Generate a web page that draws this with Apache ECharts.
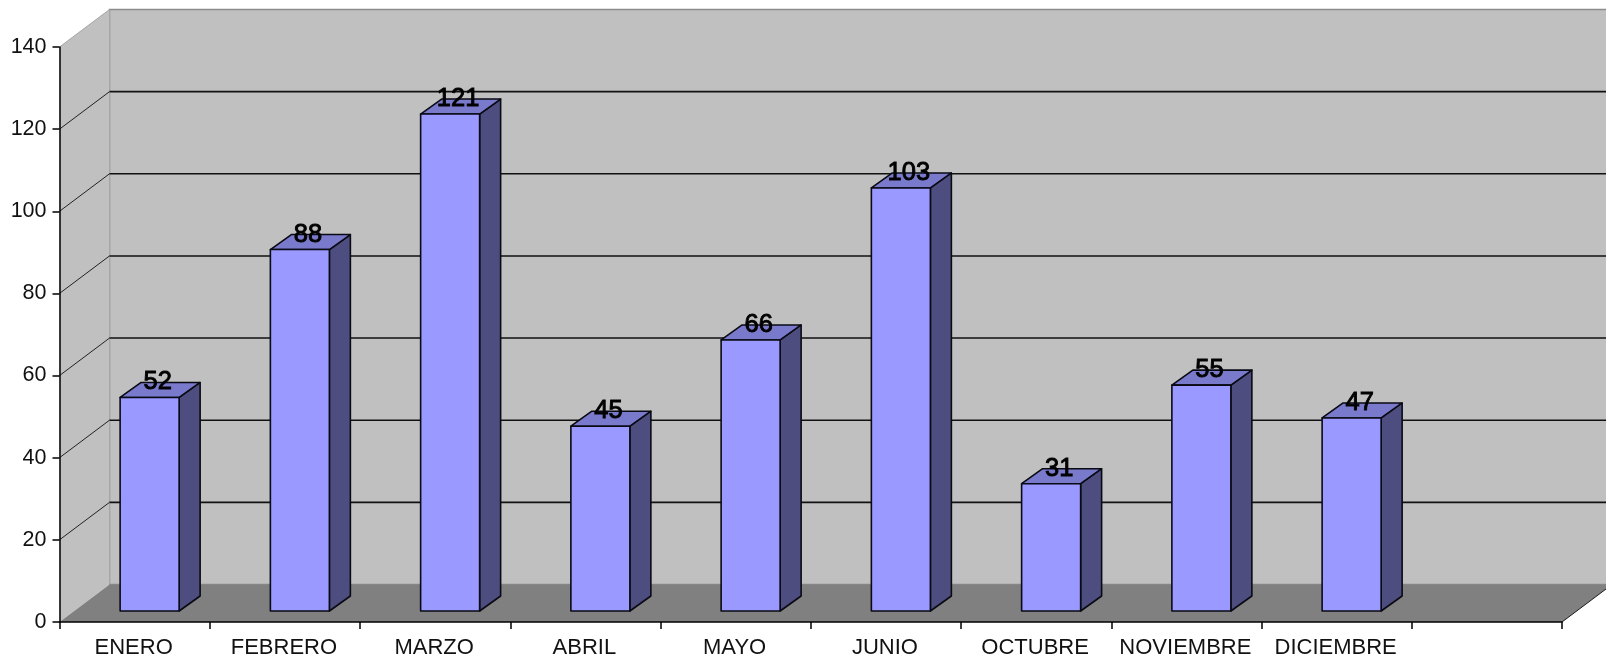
<!DOCTYPE html>
<html>
<head>
<meta charset="utf-8">
<style>
  html, body { margin: 0; padding: 0; background: #fff; }
  #chart { width: 1606px; height: 660px; }
</style>
<script src="https://cdn.jsdelivr.net/npm/echarts@6/dist/echarts.min.js"></script>
</head>
<body>
<div id="chart"></div>
<script>
const categories = ['ENERO', 'FEBRERO', 'MARZO', 'ABRIL', 'MAYO', 'JUNIO', 'OCTUBRE', 'NOVIEMBRE', 'DICIEMBRE', '']
const values = [52, 88, 121, 45, 66, 103, 31, 55, 47]
const gridTicks = [20, 40, 60, 80, 100, 120]

// perspective offsets of the old excel 3d look
const wallDx = 50
const wallDy = 37.5
const barDx = 21
const barDy = 15
const barShiftX = 15
const barShiftY = 11
const barWidth = 59

const myChart = echarts.init(document.getElementById('chart'), null, { renderer: 'canvas' })

const renderWalls = (params, api) => {
  const c = params.coordSys
  const x0 = c.x, x1 = c.x + c.width, yTop = c.y, yBot = c.y + c.height
  const poly = (points, fill, stroke, lw) => ({
    type: 'polygon',
    shape: { points },
    style: { fill, stroke: stroke || null, lineWidth: lw || 0 }
  })
  return {
    type: 'group',
    children: [
      poly([[x0 + wallDx, yTop - wallDy], [x1 + wallDx, yTop - wallDy], [x1 + wallDx, yBot - wallDy], [x0 + wallDx, yBot - wallDy]], '#C0C0C0', '#8C8C8C', 1.5),
      poly([[x0, yTop], [x0 + wallDx, yTop - wallDy], [x0 + wallDx, yBot - wallDy], [x0, yBot]], '#C0C0C0'),
      { type: 'line', shape: { x1: x0, y1: yTop, x2: x0 + wallDx, y2: yTop - wallDy }, style: { stroke: '#A6A6A6', lineWidth: 1 } },
      poly([[x0, yBot], [x0 + wallDx, yBot - wallDy], [x1 + wallDx, yBot - wallDy], [x1, yBot]], '#808080'),
      { type: 'line', shape: { x1: x1, y1: yBot, x2: x1 + wallDx, y2: yBot - wallDy }, style: { stroke: '#1a1a1a', lineWidth: 1 } }
    ]
  }
}

const renderGridLine = (params, api) => {
  const c = params.coordSys
  const y = api.coord([0, api.value(1)])[1]
  return {
    type: 'group',
    children: [
      { type: 'line', shape: { x1: c.x, y1: y, x2: c.x + wallDx, y2: y - wallDy }, style: { stroke: '#222', lineWidth: 1 } },
      { type: 'line', shape: { x1: c.x + wallDx, y1: y - wallDy, x2: c.x + c.width + wallDx, y2: y - wallDy }, style: { stroke: '#111', lineWidth: 1.6 } }
    ]
  }
}

const renderBar = (params, api) => {
  const idx = api.value(0)
  const val = api.value(1)
  const center = api.coord([idx, 0])[0]
  const left = center + barShiftX - barWidth / 2
  const right = left + barWidth
  const bottom = api.coord([idx, 0])[1] - barShiftY
  const top = api.coord([idx, val])[1] - barShiftY
  const edge = { stroke: '#0a0a14', lineWidth: 1.6, lineJoin: 'round' }
  return {
    type: 'group',
    children: [
      {
        type: 'polygon',
        shape: { points: [[right, bottom], [right + barDx, bottom - barDy], [right + barDx, top - barDy], [right, top]] },
        style: { fill: '#4D4D80', ...edge }
      },
      {
        type: 'polygon',
        shape: { points: [[left, top], [left + barDx, top - barDy], [right + barDx, top - barDy], [right, top]] },
        style: { fill: '#7A7ACC', ...edge }
      },
      {
        type: 'rect',
        shape: { x: left, y: top, width: barWidth, height: bottom - top },
        style: { fill: '#9999FF', ...edge }
      },
      {
        type: 'text',
        x: left + barWidth / 2 + 8,
        y: top - 15,
        style: {
          text: String(val),
          fill: '#000',
          font: '25.5px "Liberation Sans", Arial, sans-serif',
          align: 'center',
          verticalAlign: 'middle',
          stroke: '#000',
          lineWidth: 0.9
        }
      }
    ]
  }
}

myChart.setOption({
  animation: false,
  backgroundColor: '#fff',
  grid: { left: 59.5, right: 44, top: 47, bottom: 38, containLabel: false },
  xAxis: {
    type: 'category',
    data: categories,
    boundaryGap: true,
    axisLine: { show: true, lineStyle: { color: '#000', width: 1.5 } },
    axisTick: { show: true, alignWithLabel: false, length: 7, lineStyle: { color: '#000', width: 1.5 } },
    axisLabel: {
      interval: 0,
      hideOverlap: false,
      color: '#111',
      margin: 15,
      fontSize: 22,
      padding: [0, 2, 0, 0],
      fontFamily: '"Liberation Sans", Arial, sans-serif'
    },
    splitLine: { show: false },
    z: 5
  },
  yAxis: {
    type: 'value',
    min: 0,
    max: 140,
    interval: 20,
    axisLine: { show: true, lineStyle: { color: '#000', width: 1.5 } },
    axisTick: { show: true, length: 7, lineStyle: { color: '#000', width: 1.5 } },
    axisLabel: {
      color: '#111',
      margin: 13,
      fontSize: 21.5,
      fontFamily: '"Liberation Sans", Arial, sans-serif'
    },
    splitLine: { show: false },
    z: 5
  },
  series: [
    { name: 'paredes', type: 'custom', z: 1, silent: true, renderItem: renderWalls, data: [[0, 0]] },
    { name: 'lineas', type: 'custom', z: 2, silent: true, renderItem: renderGridLine, data: gridTicks.map(t => [0, t]) },
    { name: 'meses', type: 'custom', z: 3, renderItem: renderBar, data: values.map((v, i) => [i, v]) }
  ]
})
</script>
</body>
</html>
